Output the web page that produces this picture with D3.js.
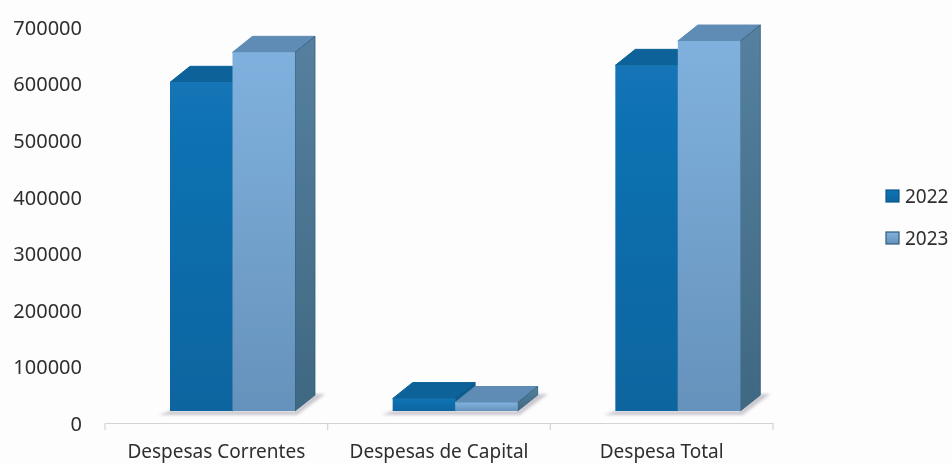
<!DOCTYPE html>
<html>
<head>
<meta charset="utf-8">
<script src="https://cdn.jsdelivr.net/npm/d3@7"></script>
<style>
  html, body { margin: 0; padding: 0; background: #fdfdfe; }
  svg { display: block; }
  text { font-family: "Noto Sans", sans-serif; fill: #2e2e2e; }
</style>
</head>
<body>
<script>
const categories = ["Despesas Correntes", "Despesas de Capital", "Despesa Total"];
const years = ["2022", "2023"];
const values2022 = [581000, 22000, 611000];
const values2023 = [634000, 15000, 654000];
const tickValues = [0, 100000, 200000, 300000, 400000, 500000, 600000, 700000];

const width = 952, height = 464;
const depthX = 20, depthY = 16, floorGap = 13;

const svg = d3.select("body").append("svg")
  .attr("width", width)
  .attr("height", height);

const defs = svg.append("defs");
defs.append("filter").attr("id", "scan")
  .append("feGaussianBlur").attr("stdDeviation", 0.5);
defs.append("filter").attr("id", "soft")
  .append("feGaussianBlur").attr("stdDeviation", 1.6);

function gradient(id, top, bottom) {
  const g = defs.append("linearGradient").attr("id", id)
    .attr("x1", 0).attr("y1", 0).attr("x2", 0).attr("y2", 1);
  g.append("stop").attr("offset", "0%").attr("stop-color", top);
  g.append("stop").attr("offset", "100%").attr("stop-color", bottom);
}
gradient("front0", "#1274b6", "#0c659f");
gradient("front1", "#80b1de", "#6592bc");
gradient("side0", "#0f5f93", "#0d5688");
gradient("side1", "#55809f", "#3f6882");

const colors = [
  { front: "url(#front0)", top: "#0d6299", side: "url(#side0)", edge: "#0d5688" },
  { front: "url(#front1)", top: "#5f8cb4", side: "url(#side1)", edge: "#2f5d78" }
];

const x = d3.scaleBand().domain(categories).range([105, 773]);
const xInner = d3.scaleBand().domain(years).range([65, 190]);
const y = d3.scaleLinear().domain([0, 700000]).range([424, 28]);

const root = svg.append("g").attr("filter", "url(#scan)");

// axis
const axisY = 423;
const xAxis = root.append("g").attr("transform", `translate(0,${axisY})`)
  .call(d3.axisBottom(x).tickSize(0).tickPadding(22));
xAxis.select(".domain").attr("stroke", "#d5d3d8").attr("stroke-width", 1.2);
xAxis.selectAll("text").attr("font-size", 19).attr("dy", "0.71em");
root.selectAll(".cat-tick").data(d3.range(categories.length + 1)).join("line")
  .attr("class", "cat-tick")
  .attr("x1", i => 105 + i * x.step()).attr("x2", i => 105 + i * x.step())
  .attr("y1", axisY).attr("y2", axisY + 7)
  .attr("stroke", "#d5d3d8").attr("stroke-width", 1.2);

const yAxis = root.append("g").attr("transform", "translate(82,0)")
  .call(d3.axisLeft(y).tickValues(tickValues).tickFormat(d3.format("d")).tickSize(0).tickPadding(0));
yAxis.select(".domain").remove();
yAxis.selectAll("text").attr("font-size", 20);

// floor shadow under each group
const base = y(0) - floorGap;
root.selectAll(".floor").data(categories).join("path")
  .attr("class", "floor")
  .attr("d", c => {
    const l = x(c) + xInner("2022"), r = l + xInner.bandwidth() * 2;
    return `M${l - 11},${base + 4}L${r + 2},${base + 4}L${r + depthX + 10},${base - depthY - 1}L${r + depthX - 2},${base - depthY - 1}L${r},${base}L${l},${base}Z`;
  })
  .attr("fill", "#c9c7cd")
  .attr("filter", "url(#soft)");

// 3d bars, back series first so nothing overlaps wrongly
function drawBars(year, vals, c) {
  const g = root.append("g");
  categories.forEach((cat, i) => {
    const l = x(cat) + xInner(year), r = l + xInner.bandwidth();
    const t = y(vals[i]) - floorGap;
    g.append("path")
      .attr("d", `M${l},${t}L${l + depthX},${t - depthY}L${r + depthX},${t - depthY}L${r},${t}Z`)
      .attr("fill", c.top)
      .attr("stroke", c.top).attr("stroke-linejoin", "round");
    g.append("path")
      .attr("d", `M${r},${t}L${r + depthX},${t - depthY}L${r + depthX},${base - depthY}L${r},${base}Z`)
      .attr("fill", c.side)
      .attr("stroke", c.edge).attr("stroke-width", 0.8).attr("stroke-linejoin", "round");
    g.append("rect")
      .attr("x", l).attr("y", t)
      .attr("width", r - l).attr("height", base - t)
      .attr("fill", c.front);
  });
}
drawBars("2022", values2022, colors[0]);
drawBars("2023", values2023, colors[1]);

// legend
const legendY = d3.scalePoint().domain(years).range([196, 238]);
years.forEach((yr, i) => {
  root.append("rect")
    .attr("x", 886).attr("y", legendY(yr) - 6)
    .attr("width", 13).attr("height", 12)
    .attr("fill", i ? "url(#front1)" : "url(#front0)")
    .attr("stroke", colors[i].edge).attr("stroke-width", 1.2);
  root.append("text")
    .attr("x", 905).attr("y", legendY(yr)).attr("dy", "0.36em")
    .attr("font-size", 19)
    .text(yr);
});
</script>
</body>
</html>
